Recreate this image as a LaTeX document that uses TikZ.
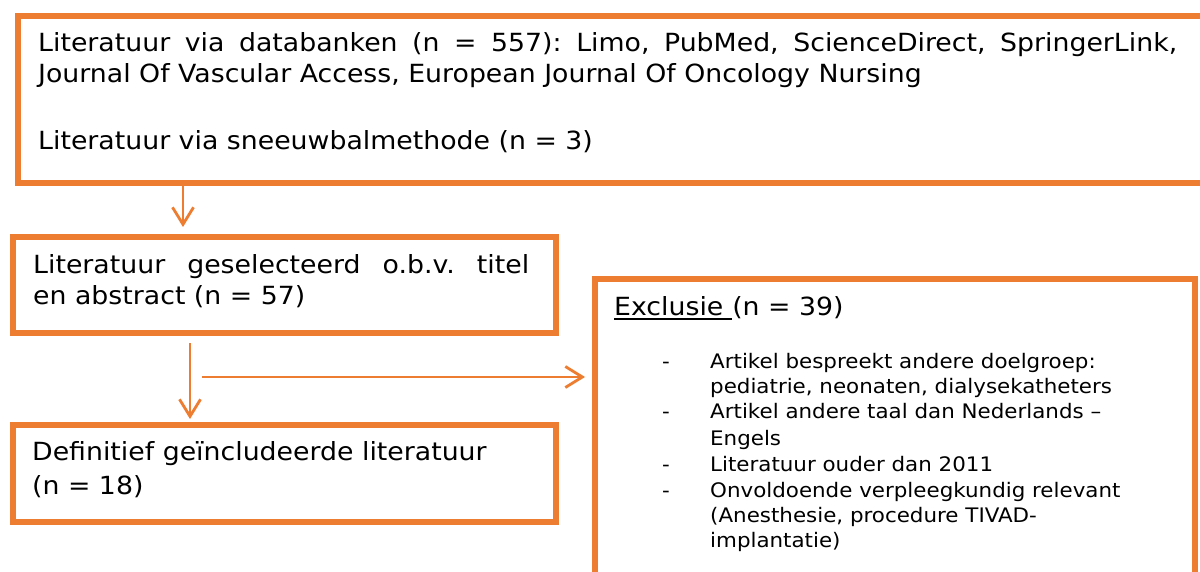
\documentclass[tikz,border=0pt]{standalone}
\usepackage{fontspec}
\setmainfont{DejaVu Sans}[FakeStretch=1.07]
\usetikzlibrary{arrows.meta}
\definecolor{flow}{HTML}{ED7D31}
\begin{document}
\frenchspacing
\begin{tikzpicture}[x=1pt,y=-1pt,
  box/.style={draw=flow, line width=6pt, inner sep=0pt, anchor=north west, fill=white},
  arr/.style={draw=flow, line width=2.8pt, -{Straight Barb[length=17pt,width=21pt,line width=2.8pt]}},
  big/.style={anchor=base west, inner sep=0pt, font=\fontsize{25}{32}\selectfont},
  small/.style={anchor=base west, inner sep=0pt, font=\fontsize{20}{25}\selectfont}]
\useasboundingbox (0,0) rectangle (1200,572);
\clip (0,0) rectangle (1200,572);
\fill[white] (0,0) rectangle (1200,572);
% boxes
\node[box, minimum width=1195pt, minimum height=167.5pt] (top) at (15,13) {};
\node[box, minimum width=543pt, minimum height=96pt] (b2) at (10,234) {};
\node[box, minimum width=543.5pt, minimum height=97pt] (b4) at (9.5,422) {};
\node[box, minimum width=600pt, minimum height=340pt] (b3) at (592,276.5) {};
% texts
\node[big] (t1) at (38,52) {\makebox[1139pt][s]{Literatuur via databanken (n = 557): Limo, PubMed, ScienceDirect, SpringerLink,}};
\node[big] (t2) at (38,83) {Journal Of Vascular Access, European Journal Of Oncology Nursing};
\node[big] (t3) at (38,150) {Literatuur via sneeuwbalmethode (n = 3)};
\node[big] (s1) at (33,273) {\makebox[496pt][s]{Literatuur geselecteerd o.b.v. titel}};
\node[big] (s2) at (33,305) {en abstract (n = 57)};
\node[big] (d1) at (32,460) {Definitief geïncludeerde literatuur};
\node[big] (d2) at (32,494) {(n = 18)};
\node[big] (exw) at (614,316) {Exclusie\ \hbox{}};
\node[big] (exn) at (exw.base east) {(n = 39)};
\draw[line width=1.6pt] ([yshift=-3pt]exw.base west) -- ([yshift=-3pt]exw.base east);
% bullets
\node[small] (m1) at (662,368) {-};
\node[small] (m2) at (662,418) {-};
\node[small] (m3) at (662,471) {-};
\node[small] (m4) at (662,497) {-};
\node[small] (i1) at (710,368) {Artikel bespreekt andere doelgroep:};
\node[small] (i1b) at (710,393) {pediatrie, neonaten, dialysekatheters};
\node[small] (i2) at (710,418) {Artikel andere taal dan Nederlands –};
\node[small] (i2b) at (710,445) {Engels};
\node[small] (i3) at (710,471) {Literatuur ouder dan 2011};
\node[small] (i4) at (710,497) {Onvoldoende verpleegkundig relevant};
\node[small] (i4b) at (710,522) {(Anesthesie, procedure TIVAD-};
\node[small] (i4c) at (710,547) {implantatie)};
% connectors
\coordinate (a1) at (183,0);
\coordinate (a2) at (190,0);
\coordinate (h0) at (202,377);
\draw[arr, shorten >=7pt] (top.south -| a1) -- (b2.north -| a1);
\draw[arr, shorten <=7pt, shorten >=3pt] (b2.south -| a2) -- (b4.north -| a2);
\draw[arr, shorten >=7pt] (h0) -- (h0 -| b3.west);
\end{tikzpicture}
\end{document}
